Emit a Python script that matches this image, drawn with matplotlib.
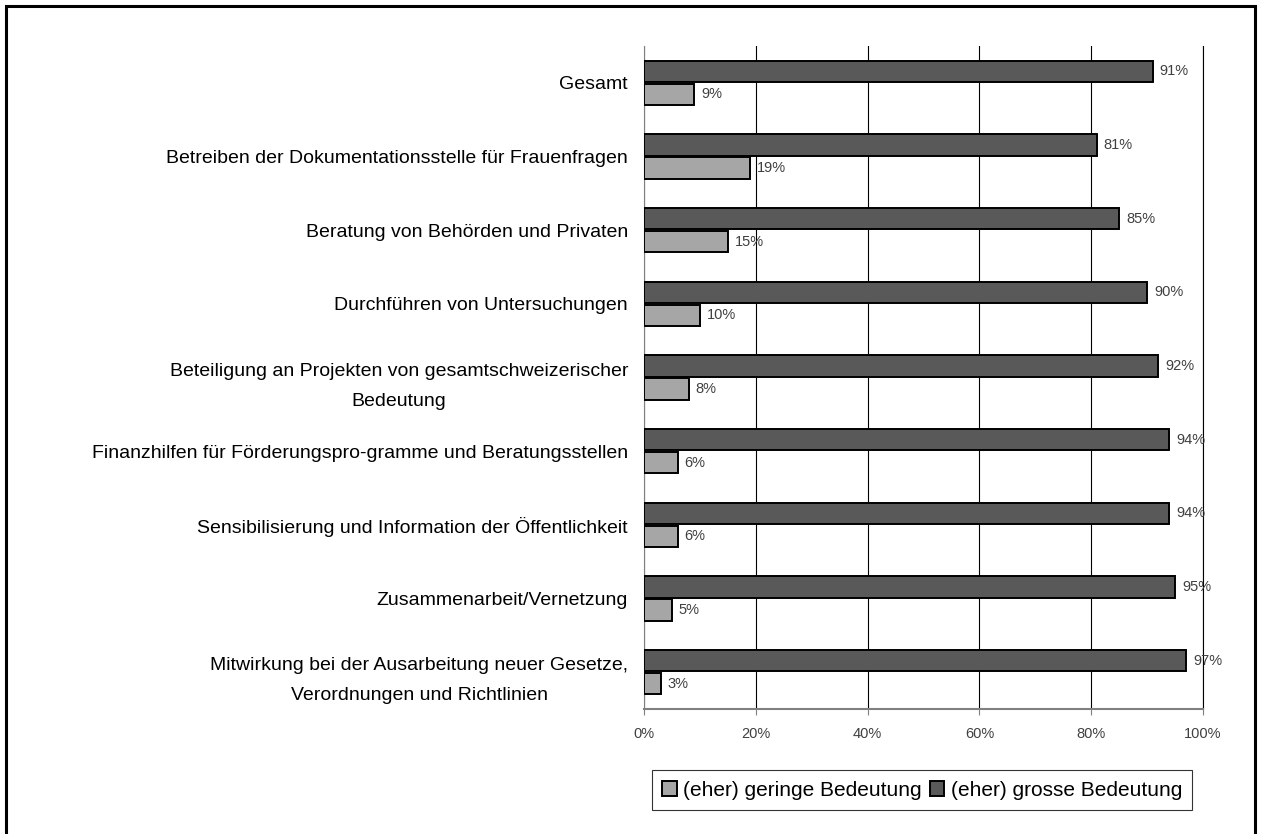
"""Horizontal grouped bar chart: Bedeutung der Aufgaben (geringe vs. grosse)."""

import matplotlib.pyplot as plt
import numpy as np
from matplotlib.patches import Rectangle

CATEGORIES = [
    "Gesamt",
    "Betreiben der Dokumentationsstelle für Frauenfragen",
    "Beratung von Behörden und Privaten",
    "Durchführen von Untersuchungen",
    "Beteiligung an Projekten von gesamtschweizerischer\nBedeutung",
    "Finanzhilfen für Förderungspro-gramme und Beratungsstellen",
    "Sensibilisierung und Information der Öffentlichkeit",
    "Zusammenarbeit/Vernetzung",
    "Mitwirkung bei der Ausarbeitung neuer Gesetze,\nVerordnungen und Richtlinien",
]
GROSSE = [91, 81, 85, 90, 92, 94, 94, 95, 97]
GERINGE = [9, 19, 15, 10, 8, 6, 6, 5, 3]
SERIES_NAMES = ["(eher) geringe Bedeutung", "(eher) grosse Bedeutung"]
X_TICKS = [0, 20, 40, 60, 80, 100]

LIGHT = "#a6a6a6"
DARK = "#595959"
TEXT_GREY = "#404040"

plt.rcParams["font.family"] = ["Liberation Sans", "DejaVu Sans"]


def main() -> None:
    fig = plt.figure(figsize=(12.63, 8.34), dpi=100)
    ax = fig.add_axes([0.5099, 0.1499, 0.4426, 0.7949])

    y = np.arange(len(CATEGORIES))
    h = 0.29
    off = 0.155
    b_dark = ax.barh(y - off, GROSSE, height=h, color=DARK, edgecolor="black",
                     linewidth=1.4, label=SERIES_NAMES[1], zorder=3)
    b_light = ax.barh(y + off, GERINGE, height=h, color=LIGHT, edgecolor="black",
                      linewidth=1.4, label=SERIES_NAMES[0], zorder=3)

    for bars, vals in ((b_dark, GROSSE), (b_light, GERINGE)):
        for bar, v in zip(bars, vals):
            ax.annotate(f"{v}%", (bar.get_width(), bar.get_y() + bar.get_height() / 2),
                        xytext=(5, 0), textcoords="offset points",
                        va="center", ha="left", fontsize=10.5, color=TEXT_GREY,
                        zorder=4)

    ax.set_xlim(0, 100)
    ax.set_ylim(len(CATEGORIES) - 0.5, -0.5)
    ax.set_xticks(X_TICKS)
    ax.set_xticklabels([f"{t}%" for t in X_TICKS], fontsize=10.5, color=TEXT_GREY)
    ax.tick_params(axis="x", direction="out", length=4, color="#808080", pad=9)
    ax.set_yticks(y)
    ax.set_yticklabels(CATEGORIES, fontsize=14, multialignment="center",
                       linespacing=2.0)
    ax.tick_params(axis="y", length=0, pad=11.5)

    ax.grid(axis="x", color="black", linewidth=0.8, zorder=0)
    ax.axvline(100, color="black", linewidth=0.8, zorder=0, clip_on=False)
    for side in ("top", "right"):
        ax.spines[side].set_visible(False)
    ax.spines["left"].set_color("#808080")
    ax.spines["bottom"].set_color("#808080")
    ax.spines["bottom"].set_linewidth(1.5)

    handles = [b_light, b_dark]
    leg = fig.legend(handles, SERIES_NAMES, loc="center",
                     bbox_to_anchor=(922 / 1263, 1 - 790 / 834), ncol=2,
                     fontsize=15, frameon=True, fancybox=False,
                     edgecolor="black", handlelength=0.7, handleheight=0.7,
                     handletextpad=0.3, columnspacing=0.4, borderpad=0.5)
    leg.get_frame().set_linewidth(0.8)

    fig.patches.append(Rectangle((6 / 1263, -0.05), 1249 / 1263, 1.05 - 6 / 834,
                                 transform=fig.transFigure, fill=False,
                                 edgecolor="black", linewidth=2.2))

    fig.savefig("out.png", dpi=100)


if __name__ == "__main__":
    main()
